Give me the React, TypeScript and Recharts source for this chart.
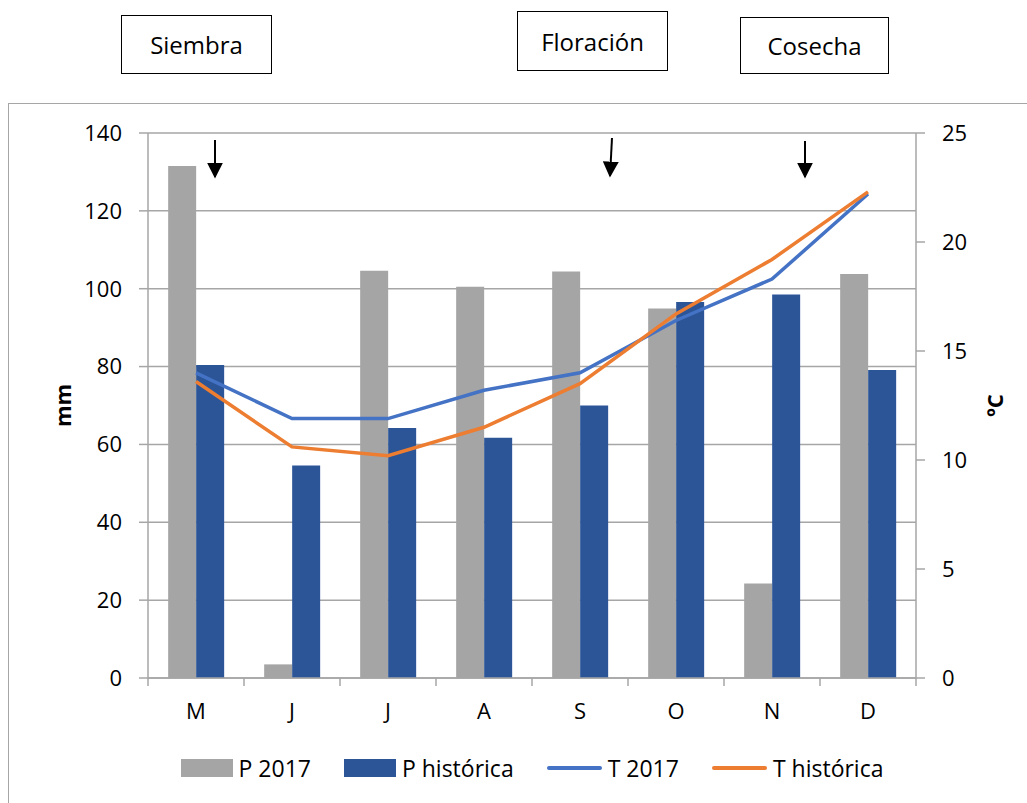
import React from "react";
import {
  ComposedChart,
  Bar,
  Line,
  XAxis,
  YAxis,
  CartesianGrid,
  Legend,
} from "recharts";

const months = ["M", "J", "J", "A", "S", "O", "N", "D"];
const p2017 = [131.5, 3.5, 104.6, 100.5, 104.4, 94.9, 24.3, 103.8];
const pHistorica = [80.4, 54.6, 64.2, 61.7, 70.0, 96.6, 98.5, 79.1];
const t2017 = [14.0, 11.9, 11.9, 13.2, 14.0, 16.4, 18.3, 22.2];
const tHistorica = [13.6, 10.6, 10.2, 11.5, 13.5, 16.7, 19.2, 22.3];
const mmTicks = [0, 20, 40, 60, 80, 100, 120, 140];
const tempTicks = [0, 5, 10, 15, 20, 25];

const data = months.map((m, i) => ({
  mes: m,
  p2017: p2017[i],
  pHist: pHistorica[i],
  t2017: t2017[i],
  tHist: tHistorica[i],
}));

const W = 1027;
const H = 803;
const LEFT_W = 148;
const RIGHT_W = 111;
const BAND = (W - LEFT_W - RIGHT_W) / months.length;
const GRID = "#a6a6a6";
const GRAY = "#a5a5a5";
const NAVY = "#2b5597";
const BLUE = "#4472c4";
const ORANGE = "#ed7d31";

function MonthTick(props: any) {
  const { x, y, payload, index } = props;
  return (
    <g>
      <line x1={x - BAND / 2} y1={y} x2={x - BAND / 2} y2={y + 8} stroke={GRID} strokeWidth={1.5} />
      {index === months.length - 1 && (
        <line x1={x + BAND / 2} y1={y} x2={x + BAND / 2} y2={y + 8} stroke={GRID} strokeWidth={1.5} />
      )}
      <text x={x} y={y + 41} textAnchor="middle" fontSize={22} fill="#000">
        {payload.value}
      </text>
    </g>
  );
}

// axis title, rotated around its own centre
function AxisTitle(props: any) {
  const { viewBox, title, offsetX, rot } = props;
  const cx = viewBox.x + offsetX;
  const cy = viewBox.y + viewBox.height / 2;
  return (
    <g transform={`translate(${cx} ${cy}) rotate(${rot})`}>
      <text
        x={0}
        y={0}
        textAnchor="middle"
        dominantBaseline="central"
        fontWeight="bold"
        fontSize={22}
        fill="#000"
      >
        {title}
      </text>
    </g>
  );
}

const legendItems = [
  { label: "P 2017", color: GRAY, kind: "rect" },
  { label: "P histórica", color: NAVY, kind: "rect" },
  { label: "T 2017", color: BLUE, kind: "line" },
  { label: "T histórica", color: ORANGE, kind: "line" },
];

function ChartLegend() {
  return (
    <div
      style={{
        height: 40,
        display: "flex",
        alignItems: "center",
        justifyContent: "center",
        gap: 33,
        paddingLeft: LEFT_W,
        paddingRight: RIGHT_W,
        fontSize: 23,
        color: "#000",
      }}
    >
      {legendItems.map((it) => (
        <div key={it.label} style={{ display: "flex", alignItems: "center", gap: 6 }}>
          {it.kind === "rect" ? (
            <div style={{ width: 52, height: 18, background: it.color }} />
          ) : (
            <div style={{ width: 55, height: 4, borderRadius: 2, background: it.color }} />
          )}
          <span>{it.label}</span>
        </div>
      ))}
    </div>
  );
}

const boxes = [
  { text: "Siembra", left: 121, top: 15, width: 151, height: 59 },
  { text: "Floración", left: 517, top: 11, width: 151, height: 60 },
  { text: "Cosecha", left: 740, top: 17, width: 149, height: 57 },
];

const arrows = [
  { x1: 215, y1: 140, x2: 215, y2: 177 },
  { x1: 612, y1: 138, x2: 610, y2: 176 },
  { x1: 805, y1: 141, x2: 805, y2: 177 },
];

export default function App() {
  return (
    <div
      style={{
        position: "absolute",
        left: 0,
        top: 0,
        width: W,
        height: H,
        overflow: "hidden",
        background: "#fff",
        fontFamily: "'Open Sans', sans-serif",
      }}
    >
      <div
        style={{
          position: "absolute",
          left: 8,
          top: 103,
          width: W,
          height: H,
          borderTop: `1.5px solid ${GRID}`,
          borderLeft: `1.5px solid ${GRID}`,
        }}
      />
      <ComposedChart
        width={W}
        height={H}
        data={data}
        margin={{ top: 133, right: 0, bottom: 15, left: 0 }}
        barCategoryGap="21%"
        barGap={0}
      >
        <CartesianGrid vertical={false} stroke={GRID} strokeWidth={1.5} />
        <XAxis
          dataKey="mes"
          height={70}
          tickSize={0}
          tickMargin={0}
          axisLine={{ stroke: GRID, strokeWidth: 1.5 }}
          tickLine={false}
          tick={<MonthTick />}
          interval={0}
        />
        <YAxis
          width={LEFT_W}
          domain={[0, 140]}
          ticks={mmTicks}
          tickSize={9}
          tickMargin={17}
          axisLine={{ stroke: GRID, strokeWidth: 1.5 }}
          tickLine={{ stroke: GRID, strokeWidth: 1.5 }}
          tick={{ fontSize: 22, fill: "#000" }}
          label={<AxisTitle title="mm" offsetX={62} rot={-90} />}
        />
        <YAxis
          yAxisId="t"
          orientation="right"
          width={RIGHT_W}
          domain={[0, 25]}
          ticks={tempTicks}
          tickSize={9}
          tickMargin={17}
          axisLine={{ stroke: GRID, strokeWidth: 1.5 }}
          tickLine={{ stroke: GRID, strokeWidth: 1.5 }}
          tick={{ fontSize: 22, fill: "#000" }}
          label={<AxisTitle title="ºC" offsetX={78} rot={-90} />}
        />
        <Legend verticalAlign="bottom" content={<ChartLegend />} />
        <Bar dataKey="p2017" name="P 2017" fill={GRAY} isAnimationActive={false} />
        <Bar dataKey="pHist" name="P histórica" fill={NAVY} isAnimationActive={false} />
        <Line
          yAxisId="t"
          dataKey="t2017"
          name="T 2017"
          stroke={BLUE}
          strokeWidth={3.5}
          dot={false}
          activeDot={false}
          isAnimationActive={false}
        />
        <Line
          yAxisId="t"
          dataKey="tHist"
          name="T histórica"
          stroke={ORANGE}
          strokeWidth={3.5}
          dot={false}
          activeDot={false}
          isAnimationActive={false}
        />
      </ComposedChart>
      {boxes.map((b) => (
        <div
          key={b.text}
          style={{
            position: "absolute",
            left: b.left,
            top: b.top,
            width: b.width,
            height: b.height,
            boxSizing: "border-box",
            border: "1.5px solid #000",
            display: "flex",
            alignItems: "center",
            justifyContent: "center",
            fontSize: 24,
            color: "#000",
          }}
        >
          {b.text}
        </div>
      ))}
      <svg
        width={W}
        height={H}
        style={{ position: "absolute", left: 0, top: 0, pointerEvents: "none" }}
      >
        <defs>
          <marker id="head" viewBox="0 0 10 10" refX="9" refY="5" markerWidth="8" markerHeight="8" orient="auto">
            <path d="M0,0 L10,5 L0,10 z" fill="#000" />
          </marker>
        </defs>
        {arrows.map((a, i) => (
          <line
            key={i}
            x1={a.x1}
            y1={a.y1}
            x2={a.x2}
            y2={a.y2}
            stroke="#000"
            strokeWidth={2}
            markerEnd="url(#head)"
          />
        ))}
      </svg>
    </div>
  );
}
